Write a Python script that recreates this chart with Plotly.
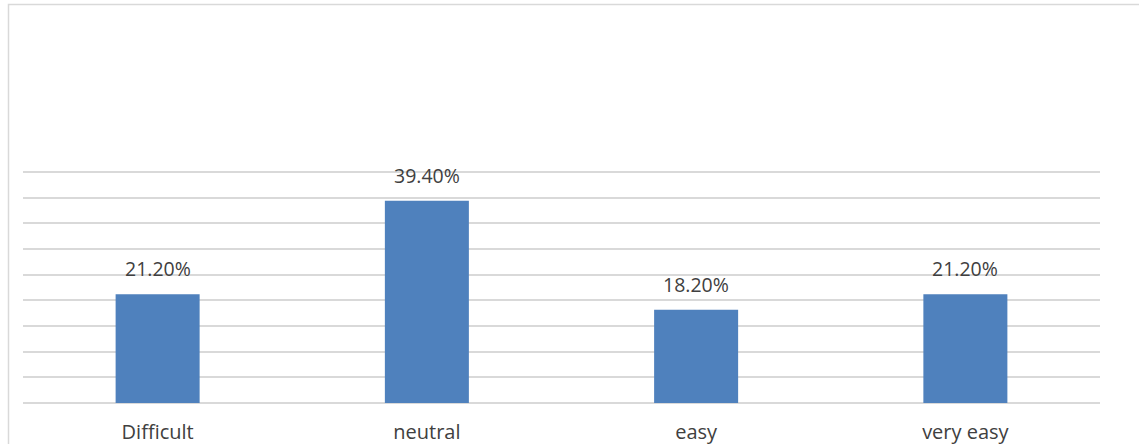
import plotly.graph_objects as go

categories = ["Difficult", "neutral", "easy", "very easy"]
values = [21.2, 39.4, 18.2, 21.2]
labels = ["21.20%", "39.40%", "18.20%", "21.20%"]
y_ticks = [0, 5, 10, 15, 20, 25, 30, 35, 40, 45]

W, H = 1139, 444
ml, mr, mt, mb = 23, 39, 167, 41
pw = W - ml - mr
ph = H - mt - mb

FONT = "Open Sans"
TXT = "#404040"

fig = go.Figure(go.Bar(
    x=categories, y=values,
    marker=dict(color="#4f81bd", line=dict(width=0)),
    width=0.312,
))

for c, v, t in zip(categories, values, labels):
    fig.add_annotation(x=c, y=v, text=t, showarrow=False, yanchor="bottom",
                       yshift=10, font=dict(family=FONT, size=19.5, color=TXT))

# chart border (left and top visible)
bx = (8.5 - ml) / pw
by = (H - mb - 4.5) / ph
fig.add_shape(type="rect", xref="paper", yref="paper",
              x0=bx, x1=1.2, y0=-0.5, y1=by,
              line=dict(color="#d9d9d9", width=1.5), layer="below")

fig.update_layout(
    width=W, height=H,
    margin=dict(l=ml, r=mr, t=mt, b=mb, autoexpand=False),
    paper_bgcolor="white", plot_bgcolor="white",
    showlegend=False,
    xaxis=dict(showgrid=False, showline=False, zeroline=False, automargin=False,
               ticks="outside", ticklen=11, tickcolor="rgba(0,0,0,0)",
               tickfont=dict(family=FONT, size=20, color=TXT)),
    yaxis=dict(range=[0, 46], tickvals=y_ticks, showticklabels=False,
               automargin=False,
               showgrid=True, gridcolor="#d9d9d9", gridwidth=1.5,
               zeroline=True, zerolinecolor="#d9d9d9", zerolinewidth=1.5),
)

fig.write_html("out.html", config={"displayModeBar": False},
               post_script="document.body.style.margin='0';")
